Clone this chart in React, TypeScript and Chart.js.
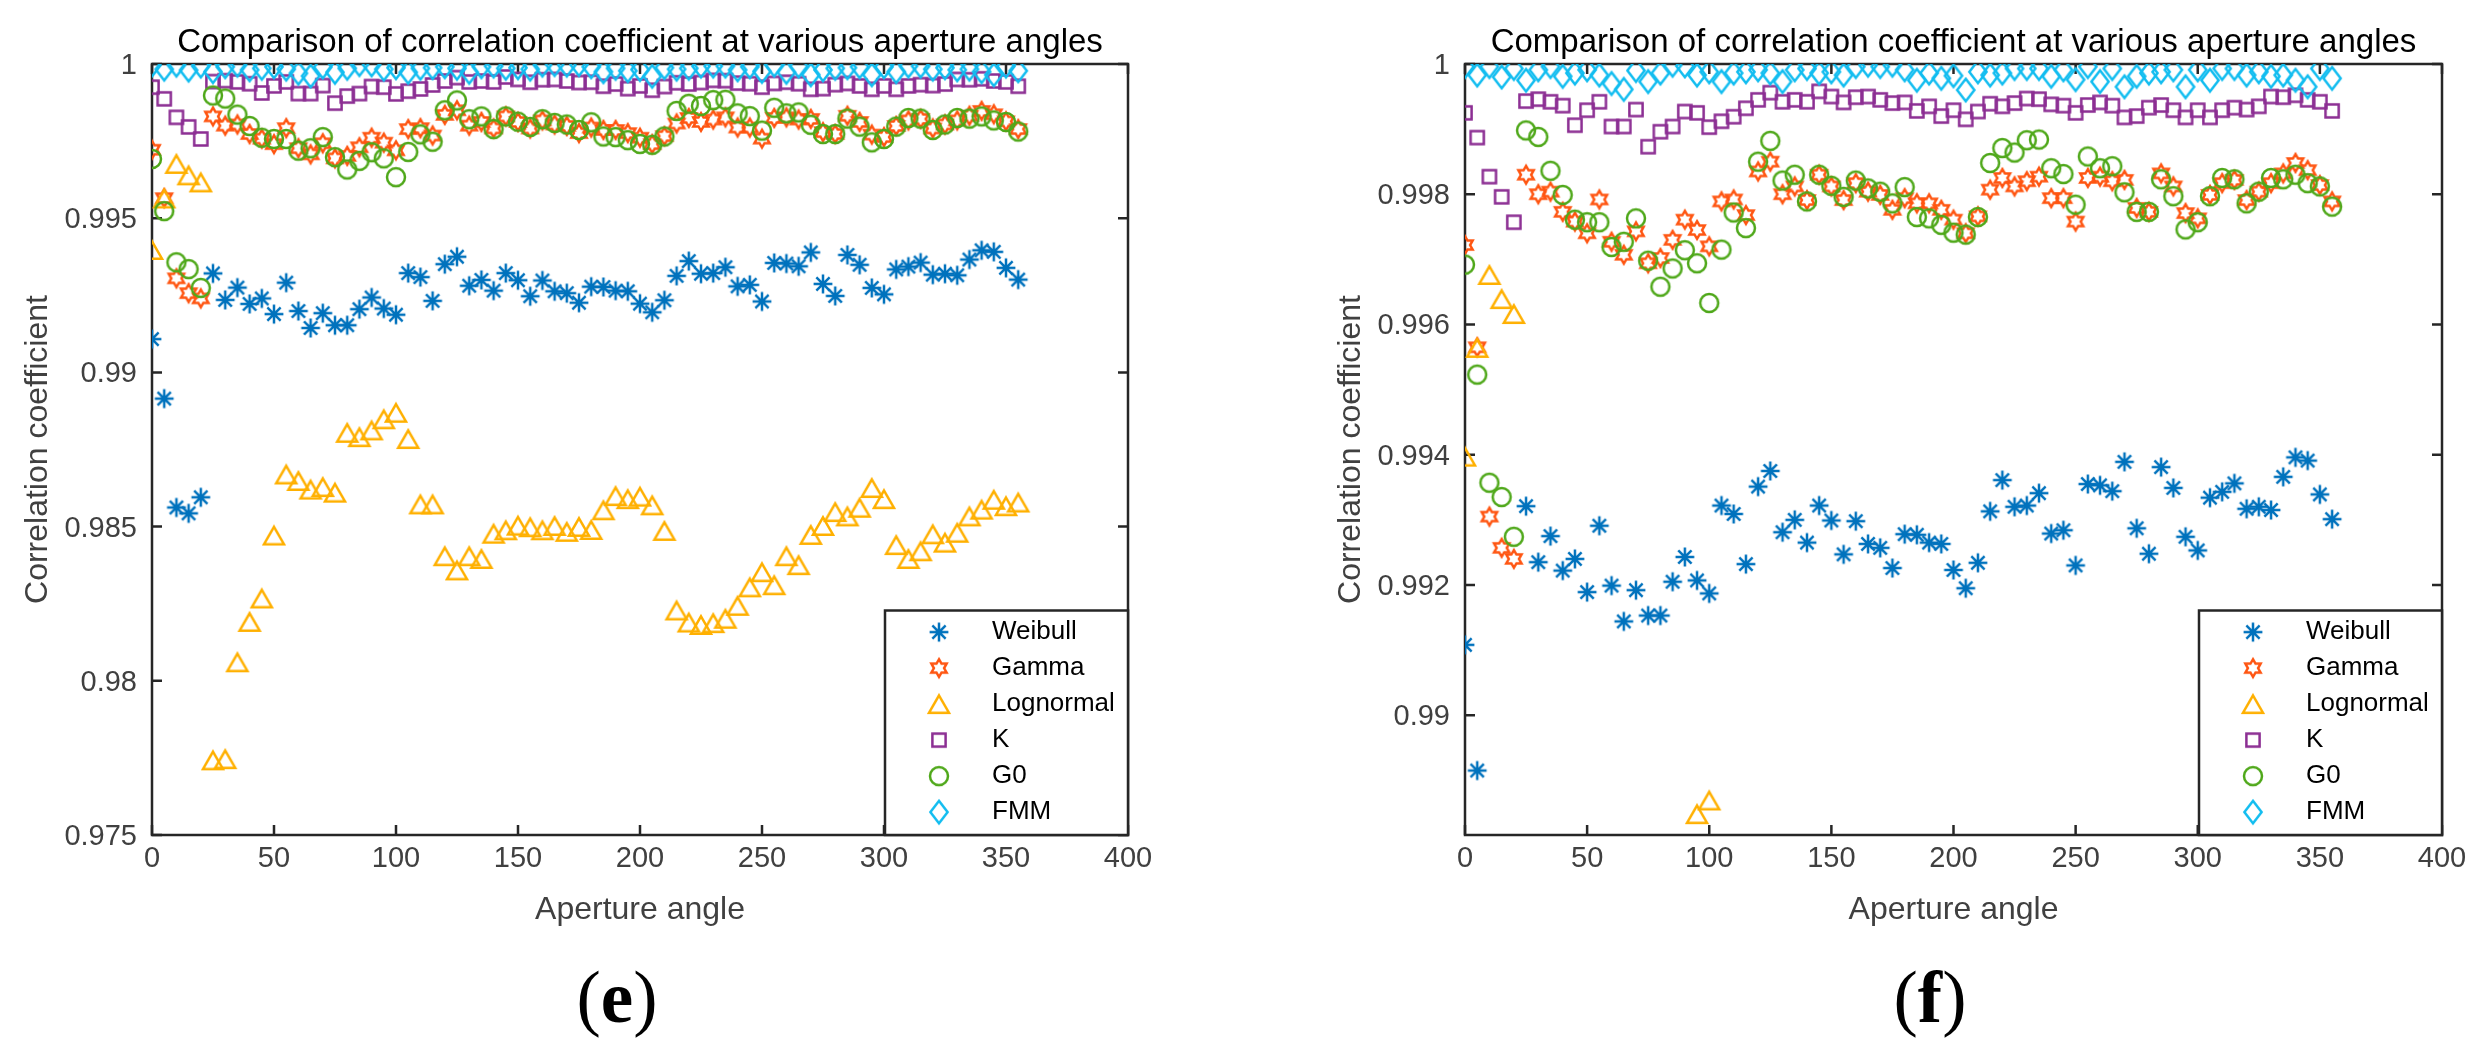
import React, { useEffect, useRef } from 'react';
import { Chart, registerables } from 'chart.js';

Chart.register(...registerables);

// ---------------- data ----------------
const angles = [
  0, 5, 10, 15, 20, 25, 30, 35, 40, 45, 50, 55, 60, 65, 70, 75, 80, 85, 90, 95,
  100, 105, 110, 115, 120, 125, 130, 135, 140, 145, 150, 155, 160, 165, 170, 175,
  180, 185, 190, 195, 200, 205, 210, 215, 220, 225, 230, 235, 240, 245, 250, 255,
  260, 265, 270, 275, 280, 285, 290, 295, 300, 305, 310, 315, 320, 325, 330, 335,
  340, 345, 350, 355,
];

const weibull = [
  0.99108, 0.98915, 0.98562, 0.98543, 0.98595, 0.99321, 0.99235, 0.99275, 0.99222, 0.9924,
  0.99189, 0.99291, 0.99199, 0.99144, 0.99192, 0.99153, 0.99153, 0.99205, 0.99243, 0.99207,
  0.99187, 0.99322, 0.99309, 0.99232, 0.99351, 0.99375, 0.99281, 0.993, 0.99265, 0.99322,
  0.99299, 0.99247, 0.99298, 0.99263, 0.99257, 0.99226, 0.99278, 0.99277, 0.99265, 0.99263,
  0.99223, 0.99195, 0.99234, 0.99313, 0.99361, 0.9932, 0.99322, 0.99341, 0.99279, 0.99284,
  0.9923, 0.99355, 0.99353, 0.99344, 0.99389, 0.99287, 0.99248, 0.99381, 0.99349, 0.99274,
  0.99253, 0.99334, 0.99343, 0.99356, 0.99317, 0.9932, 0.99315, 0.99366, 0.99396, 0.99391,
  0.99339, 0.99301,
];

const gamma = [
  0.99722, 0.99565, 0.99305, 0.99257, 0.9924, 0.9983, 0.998, 0.99804, 0.99773, 0.99758,
  0.9974, 0.99792, 0.99727, 0.99707, 0.99743, 0.99694, 0.99702, 0.9973, 0.99761, 0.99745,
  0.9972, 0.99789, 0.99792, 0.99768, 0.99835, 0.9985, 0.998, 0.99812, 0.99791, 0.9983,
  0.99812, 0.99791, 0.99817, 0.99804, 0.99799, 0.99776, 0.99794, 0.99786, 0.99786, 0.99776,
  0.99761, 0.9974, 0.99766, 0.99807, 0.99825, 0.99812, 0.9982, 0.99827, 0.99794, 0.99794,
  0.99758, 0.99825, 0.99827, 0.9982, 0.99822, 0.99779, 0.99773, 0.99832, 0.99812, 0.99771,
  0.99763, 0.99799, 0.99817, 0.99822, 0.99791, 0.99804, 0.99817, 0.99832, 0.99848, 0.99837,
  0.99814, 0.99789,
];

const lognormal = [
  0.99397, 0.99564, 0.99676, 0.99639, 0.99616, 0.97742, 0.97746, 0.9806, 0.98191, 0.98267,
  0.98471, 0.98669, 0.98648, 0.9862, 0.98628, 0.9861, 0.98804, 0.9879, 0.98812, 0.98848,
  0.98869, 0.98784, 0.98572, 0.98572, 0.98404, 0.98358, 0.98404, 0.98395, 0.98477, 0.98488,
  0.98503, 0.98498, 0.98488, 0.98502, 0.98483, 0.98499, 0.98489, 0.98553, 0.98599, 0.98589,
  0.98597, 0.98569, 0.98486, 0.98228, 0.98189, 0.98181, 0.98187, 0.98201, 0.98243, 0.98303,
  0.98352, 0.9831, 0.98404, 0.98375, 0.98473, 0.98502, 0.98547, 0.98533, 0.98561, 0.98625,
  0.98589, 0.9844, 0.98395, 0.9842, 0.98475, 0.98448, 0.9848, 0.98533, 0.98555, 0.98587,
  0.98566, 0.98578,
];

const kDist = [
  0.99925, 0.99887, 0.99827, 0.99796, 0.99757, 0.99943, 0.99946, 0.99942, 0.99936, 0.99906,
  0.99929, 0.99942, 0.99904, 0.99904, 0.9993, 0.99873, 0.99896, 0.99904, 0.99927, 0.99925,
  0.99903, 0.99912, 0.99919, 0.99932, 0.99945, 0.99956, 0.99942, 0.99945, 0.99942, 0.99958,
  0.9995, 0.99941, 0.99949, 0.9995, 0.99945, 0.9994, 0.99941, 0.99928, 0.99935, 0.9992,
  0.99929, 0.99915, 0.99927, 0.99939, 0.99935, 0.9994, 0.99947, 0.99946, 0.99938, 0.99936,
  0.99925, 0.99937, 0.99941, 0.99936, 0.99918, 0.9992, 0.99933, 0.99937, 0.99929, 0.99918,
  0.99929, 0.99918, 0.99929, 0.99933, 0.9993, 0.99935, 0.9995, 0.99949, 0.99952, 0.99945,
  0.99942, 0.99928,
];

const g0 = [
  0.99692, 0.99523, 0.99357, 0.99335, 0.99274, 0.99898, 0.99888, 0.99836, 0.99799, 0.99761,
  0.99757, 0.99757, 0.99719, 0.99727, 0.99763, 0.99698, 0.99658, 0.99686, 0.99714, 0.99694,
  0.99633, 0.99715, 0.99772, 0.99748, 0.9985, 0.99882, 0.99821, 0.9983, 0.99789, 0.9983,
  0.99813, 0.99796, 0.99821, 0.99809, 0.99804, 0.99786, 0.99811, 0.99765, 0.99763, 0.99753,
  0.99741, 0.99738, 0.99765, 0.99848, 0.99871, 0.99864, 0.99883, 0.99884, 0.9984, 0.99831,
  0.99784, 0.99858, 0.9984, 0.99843, 0.99803, 0.99773, 0.99773, 0.99823, 0.99797, 0.99746,
  0.99757, 0.99797, 0.99825, 0.99823, 0.99786, 0.99804, 0.99825, 0.99823, 0.9983, 0.99817,
  0.99812, 0.99781,
];

const fmm = [
  0.99996, 0.99983, 0.99996, 0.9998, 0.99993, 0.99975, 0.99991, 0.99996, 0.99981, 0.99986,
  0.99991, 0.99983, 0.9997, 0.99961, 0.9999, 0.99973, 0.99986, 0.99998, 0.99997, 0.99983,
  0.99988, 0.99973, 0.99986, 0.99988, 0.99991, 0.99986, 0.99973, 0.99991, 0.99993, 0.99986,
  0.99988, 0.99983, 0.99996, 0.99998, 0.99996, 0.99998, 0.99991, 0.99975, 0.99986, 0.99978,
  0.99982, 0.9996, 0.99988, 0.99983, 0.99986, 0.99993, 0.99993, 0.99993, 0.99981, 0.99991,
  0.99976, 0.99996, 0.99973, 0.99993, 0.99965, 0.99981, 0.99986, 0.99988, 0.99991, 0.99965,
  0.99991, 0.99975, 0.99993, 0.99993, 0.99983, 0.99988, 0.99981, 0.99983, 0.99975, 0.99965,
  0.99993, 0.99978,
];

const seriesNames = ['Weibull', 'Gamma', 'Lognormal', 'K', 'G0', 'FMM'];
const seriesValues = [weibull, gamma, lognormal, kDist, g0, fmm];
const seriesColors = ['#0072BD', '#FF5511', '#FFB000', '#8C2E93', '#4FA81A', '#12BDF0'];
const seriesMarkers = ['asterisk', 'hexagram', 'triangle', 'square', 'circle', 'diamond'];

const xTicks = [0, 50, 100, 150, 200, 250, 300, 350, 400];
const yTicksE = [0.975, 0.98, 0.985, 0.99, 0.995, 1];
const yTicksF = [0.99, 0.992, 0.994, 0.996, 0.998, 1];
const yRangeE = [0.975, 1];
const yRangeF = [0.98816, 1];

const TITLE = 'Comparison of correlation coefficient at various aperture angles';
const X_LABEL = 'Aperture angle';
const Y_LABEL = 'Correlation coefficient';

const FONT = '"Liberation Sans", Arial, Helvetica, sans-serif';
const AXIS_COLOR = '#262626';
const TEXT_GRAY = '#404040';

// ---------------- markers ----------------
function makeMarker(kind: string, color: string): HTMLCanvasElement {
  const S = 32;
  const c = document.createElement('canvas');
  c.width = S;
  c.height = S;
  const ctx = c.getContext('2d')!;
  ctx.strokeStyle = color;
  ctx.lineWidth = 2.5;
  ctx.lineJoin = 'miter';
  ctx.lineCap = 'butt';
  const cx = S / 2;
  const cy = S / 2;
  ctx.beginPath();
  if (kind === 'asterisk') {
    const r = 9.4;
    const d = r * Math.SQRT1_2;
    ctx.moveTo(cx, cy - r); ctx.lineTo(cx, cy + r);
    ctx.moveTo(cx - r, cy); ctx.lineTo(cx + r, cy);
    ctx.moveTo(cx - d, cy - d); ctx.lineTo(cx + d, cy + d);
    ctx.moveTo(cx - d, cy + d); ctx.lineTo(cx + d, cy - d);
    ctx.stroke();
    return c;
  }
  if (kind === 'hexagram') {
    const R = 8.8;
    const r = R / Math.sqrt(3);
    for (let i = 0; i < 12; i++) {
      const a = -Math.PI / 2 + (i * Math.PI) / 6;
      const rad = i % 2 === 0 ? R : r;
      const x = cx + rad * Math.cos(a);
      const y = cy + rad * Math.sin(a);
      if (i === 0) ctx.moveTo(x, y); else ctx.lineTo(x, y);
    }
  } else if (kind === 'triangle') {
    const s = 20;
    const h = (s * Math.sqrt(3)) / 2;
    ctx.moveTo(cx, cy - h / 2);
    ctx.lineTo(cx + s / 2, cy + h / 2);
    ctx.lineTo(cx - s / 2, cy + h / 2);
  } else if (kind === 'square') {
    const h = 6.6;
    ctx.rect(cx - h, cy - h, 2 * h, 2 * h);
  } else if (kind === 'circle') {
    ctx.arc(cx, cy, 9, 0, Math.PI * 2);
  } else if (kind === 'diamond') {
    const hw = 8.6;
    const hh = 11.2;
    ctx.moveTo(cx, cy - hh);
    ctx.lineTo(cx + hw, cy);
    ctx.lineTo(cx, cy + hh);
    ctx.lineTo(cx - hw, cy);
  }
  ctx.closePath();
  ctx.stroke();
  return c;
}

// ---------------- plugins ----------------
const boxPlugin = {
  id: 'matlabBox',
  beforeDatasetsDraw(chart: any) {
    const { ctx, chartArea, scales } = chart;
    const { left, right, top, bottom } = chartArea;
    const xs = scales.x;
    const ys = scales.y;
    const tl = 10;
    ctx.save();
    ctx.strokeStyle = AXIS_COLOR;
    ctx.lineWidth = 2.5;
    ctx.lineCap = 'butt';
    ctx.beginPath();
    xs.ticks.forEach((t: any) => {
      const px = xs.getPixelForValue(t.value);
      ctx.moveTo(px, bottom); ctx.lineTo(px, bottom - tl);
      ctx.moveTo(px, top); ctx.lineTo(px, top + tl);
    });
    ys.ticks.forEach((t: any) => {
      const py = ys.getPixelForValue(t.value);
      ctx.moveTo(left, py); ctx.lineTo(left + tl, py);
      ctx.moveTo(right, py); ctx.lineTo(right - tl, py);
    });
    ctx.stroke();
    ctx.lineJoin = 'miter';
    ctx.strokeRect(left, top, right - left, bottom - top);
    ctx.restore();
  },
};

function makeLegendPlugin(markers: HTMLCanvasElement[]) {
  return {
    id: 'boxedLegend',
    afterDatasetsDraw(chart: any) {
      const { ctx, chartArea } = chart;
      const bw = 243;
      const bh = 224.5;
      const bx = chartArea.right - bw;
      const by = chartArea.bottom - bh;
      ctx.save();
      ctx.fillStyle = '#ffffff';
      ctx.fillRect(bx, by, bw, bh);
      ctx.strokeStyle = AXIS_COLOR;
      ctx.lineWidth = 2.5;
      ctx.lineJoin = 'miter';
      ctx.strokeRect(bx, by, bw, bh);
      ctx.font = `26px ${FONT}`;
      ctx.fillStyle = '#000000';
      ctx.textBaseline = 'middle';
      ctx.textAlign = 'left';
      seriesNames.forEach((name, i) => {
        const y = by + 21.6 + 36 * i;
        const m = markers[i];
        ctx.drawImage(m, bx + 54 - m.width / 2, y - m.height / 2);
        ctx.fillText(name, bx + 107, y);
      });
      ctx.restore();
    },
  };
}

function fmtY(v: any) {
  return String(Number(Number(v).toFixed(3)));
}

function buildChart(
  canvas: HTMLCanvasElement,
  yRange: number[],
  yTicks: number[],
  padRight: number,
  markers: HTMLCanvasElement[],
) {
  const [yMin, yMax] = yRange;
  const datasets = seriesNames.map((name, i) => ({
    label: name,
    data: angles
      .map((a, j) => ({ x: a, y: seriesValues[i][j] }))
      .filter((p) => p.y >= yMin && p.y <= yMax),
    pointStyle: markers[i],
    pointRadius: 14,
    pointHoverRadius: 14,
    pointBorderWidth: 0,
    borderColor: seriesColors[i],
    backgroundColor: 'transparent',
    showLine: false,
    order: seriesNames.length - i,
  }));

  return new Chart(canvas, {
    type: 'scatter',
    data: { datasets },
    plugins: [boxPlugin, makeLegendPlugin(markers)],
    options: {
      responsive: false,
      animation: false,
      events: [],
      layout: { padding: { left: 0, right: padRight, top: 0, bottom: 0 } },
      plugins: {
        legend: { display: false },
        tooltip: { enabled: false },
        title: {
          display: true,
          text: TITLE,
          color: '#000000',
          fullSize: false,
          font: { family: FONT, size: 33, weight: 'normal' },
          padding: { top: 23, bottom: 1.4 },
        },
      },
      scales: {
        x: {
          type: 'linear',
          position: 'bottom',
          min: 0,
          max: 400,
          afterBuildTicks: (s: any) => {
            s.ticks = xTicks.map((v) => ({ value: v }));
          },
          afterFit: (s: any) => {
            s.height = 105;
          },
          grid: { display: false, drawTicks: false },
          border: { display: false },
          ticks: {
            color: TEXT_GRAY,
            font: { family: FONT, size: 29 },
            padding: 6.5,
            autoSkip: false,
            maxRotation: 0,
            minRotation: 0,
            callback: (v: any) => String(v),
          },
          title: {
            display: true,
            text: X_LABEL,
            color: TEXT_GRAY,
            font: { family: FONT, size: 32 },
            padding: { top: 0, bottom: 10.8 },
          },
        },
        y: {
          type: 'linear',
          position: 'left',
          min: yMin,
          max: yMax,
          afterBuildTicks: (s: any) => {
            s.ticks = yTicks.map((v) => ({ value: v }));
          },
          afterFit: (s: any) => {
            s.width = 152;
          },
          grid: { display: false, drawTicks: false },
          border: { display: false },
          ticks: {
            color: TEXT_GRAY,
            font: { family: FONT, size: 29 },
            padding: 15,
            labelOffset: 2,
            autoSkip: false,
            callback: (v: any) => fmtY(v),
          },
          title: {
            display: true,
            text: Y_LABEL,
            color: TEXT_GRAY,
            font: { family: FONT, size: 32 },
            padding: { top: 19.4, bottom: 0 },
          },
        },
      },
    } as any,
  });
}

const labelStyle: React.CSSProperties = {
  position: 'absolute',
  width: 200,
  top: 961,
  textAlign: 'center',
  fontFamily: '"Liberation Serif", "Times New Roman", serif',
  fontSize: 73,
  lineHeight: 1,
  color: '#000',
  whiteSpace: 'nowrap',
};

export default function App() {
  const refE = useRef<HTMLCanvasElement>(null);
  const refF = useRef<HTMLCanvasElement>(null);

  useEffect(() => {
    const markers = seriesMarkers.map((m, i) => makeMarker(m, seriesColors[i]));
    const c1 = buildChart(refE.current!, yRangeE, yTicksE, 172, markers);
    const c2 = buildChart(refF.current!, yRangeF, yTicksF, 43, markers);
    return () => {
      c1.destroy();
      c2.destroy();
    };
  }, []);

  return (
    <div
      style={{
        position: 'absolute',
        left: 0,
        top: 0,
        width: 2485,
        height: 1060,
        background: '#ffffff',
        overflow: 'hidden',
      }}
    >
      <canvas
        ref={refE}
        width={1300}
        height={940}
        style={{ position: 'absolute', left: 0, top: 0, width: 1300, height: 940 }}
      />
      <canvas
        ref={refF}
        width={1172}
        height={940}
        style={{ position: 'absolute', left: 1313, top: 0, width: 1172, height: 940 }}
      />
      <div style={{ ...labelStyle, left: 617 - 100 }}>
        (<span style={{ fontWeight: 'bold' }}>e</span>)
      </div>
      <div style={{ ...labelStyle, left: 1930 - 100 }}>
        (<span style={{ fontWeight: 'bold' }}>f</span>)
      </div>
    </div>
  );
}
